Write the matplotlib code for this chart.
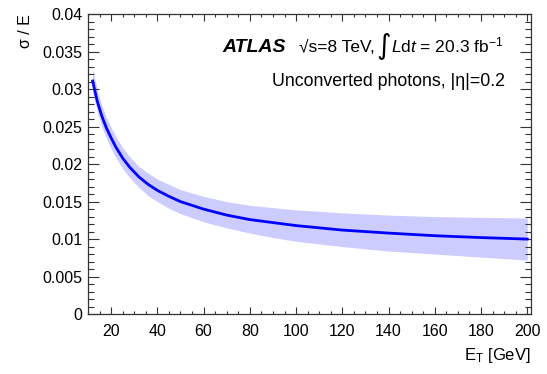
import numpy as np
import matplotlib
matplotlib.use('Agg')
import matplotlib.pyplot as plt
from matplotlib.ticker import MultipleLocator

plt.rcParams['font.family'] = ['Liberation Sans', 'DejaVu Sans']
plt.rcParams['mathtext.fontset'] = 'custom'
plt.rcParams['mathtext.rm'] = 'Liberation Sans'
plt.rcParams['mathtext.it'] = 'Liberation Sans:italic'
plt.rcParams['mathtext.bf'] = 'Liberation Sans:bold'

# resolution curve and its uncertainty band, sigma/E vs photon E_T
et = [12, 14, 16, 18, 20, 22, 25, 28, 32, 36, 40, 45, 50, 60, 70, 80,
      90, 100, 120, 140, 160, 180, 200]
res = [0.0311, 0.0284, 0.0264, 0.0248, 0.0235, 0.0223, 0.0208, 0.0196,
       0.0183, 0.0173, 0.0165, 0.0157, 0.0150, 0.0140, 0.0132, 0.0126,
       0.0122, 0.0118, 0.0112, 0.0108, 0.01045, 0.0102, 0.0100]
res_up = [0.0327, 0.0299, 0.0278, 0.0262, 0.0249, 0.0237, 0.0222, 0.0210,
          0.0197, 0.0188, 0.0180, 0.0173, 0.0166, 0.0157, 0.0150, 0.0145,
          0.0142, 0.0139, 0.0135, 0.0132, 0.0130, 0.0129, 0.0128]
res_dn = [0.0296, 0.0270, 0.0250, 0.0234, 0.0221, 0.0209, 0.0194, 0.0182,
          0.0169, 0.0158, 0.0150, 0.0141, 0.0134, 0.0123, 0.0115, 0.0108,
          0.0102, 0.0097, 0.0090, 0.0084, 0.0080, 0.0076, 0.0072]

fig = plt.figure(figsize=(5.47, 3.74), dpi=100)
ax = fig.add_axes([0.1609, 0.1604, 0.8098, 0.8014])

ax.fill_between(et, res_dn, res_up, color='#ccccff', lw=0)
ax.plot(et, res, color='#0000ff', lw=2.0)

ax.set_xlim(10, 201.6)
ax.set_ylim(0, 0.04)
ax.xaxis.set_major_locator(MultipleLocator(20))
ax.xaxis.set_minor_locator(MultipleLocator(5))
ax.yaxis.set_major_locator(MultipleLocator(0.005))
ax.yaxis.set_minor_locator(MultipleLocator(0.001))
ax.set_xticks(np.arange(20, 201, 20))
ax.set_yticks(np.arange(0, 0.0401, 0.005))
ax.set_yticklabels(['0', '0.005', '0.01', '0.015', '0.02', '0.025', '0.03', '0.035', '0.04'])

ax.tick_params(which='both', direction='in', top=True, right=True,
               labelsize=11.5, color='#333333', width=0.8)
ax.tick_params(axis='x', which='major', length=5, pad=7)
ax.tick_params(axis='x', which='minor', length=2.5)
ax.tick_params(axis='y', which='major', length=8, pad=4)
ax.tick_params(axis='y', which='minor', length=4)
for s in ax.spines.values():
    s.set_linewidth(0.9)
    s.set_color('#333333')

ax.set_xlabel(r'E$_{\mathrm{T}}$ [GeV]', fontsize=12, loc='right', labelpad=5)
ax.set_ylabel(r'σ / E', fontsize=11.5, loc='top', labelpad=7)

ax.text(0.304, 0.873, 'ATLAS', transform=ax.transAxes, fontsize=14,
        fontweight='bold', style='italic', va='baseline')
ax.text(0.477, 0.873, '√s=8 TeV,', transform=ax.transAxes, fontsize=12.5,
        va='baseline')
ax.text(0.651, 0.866, '∫', transform=ax.transAxes, fontsize=20,
        va='baseline', family='DejaVu Sans')
ax.text(0.684, 0.873, r'$L$d$t$ = 20.3 fb$^{-1}$', transform=ax.transAxes,
        fontsize=12.5, va='baseline')
ax.text(0.941, 0.76, 'Unconverted photons, |η|=0.2', transform=ax.transAxes,
        fontsize=12.8, ha='right', va='baseline')

fig.savefig('out.png', dpi=100)
